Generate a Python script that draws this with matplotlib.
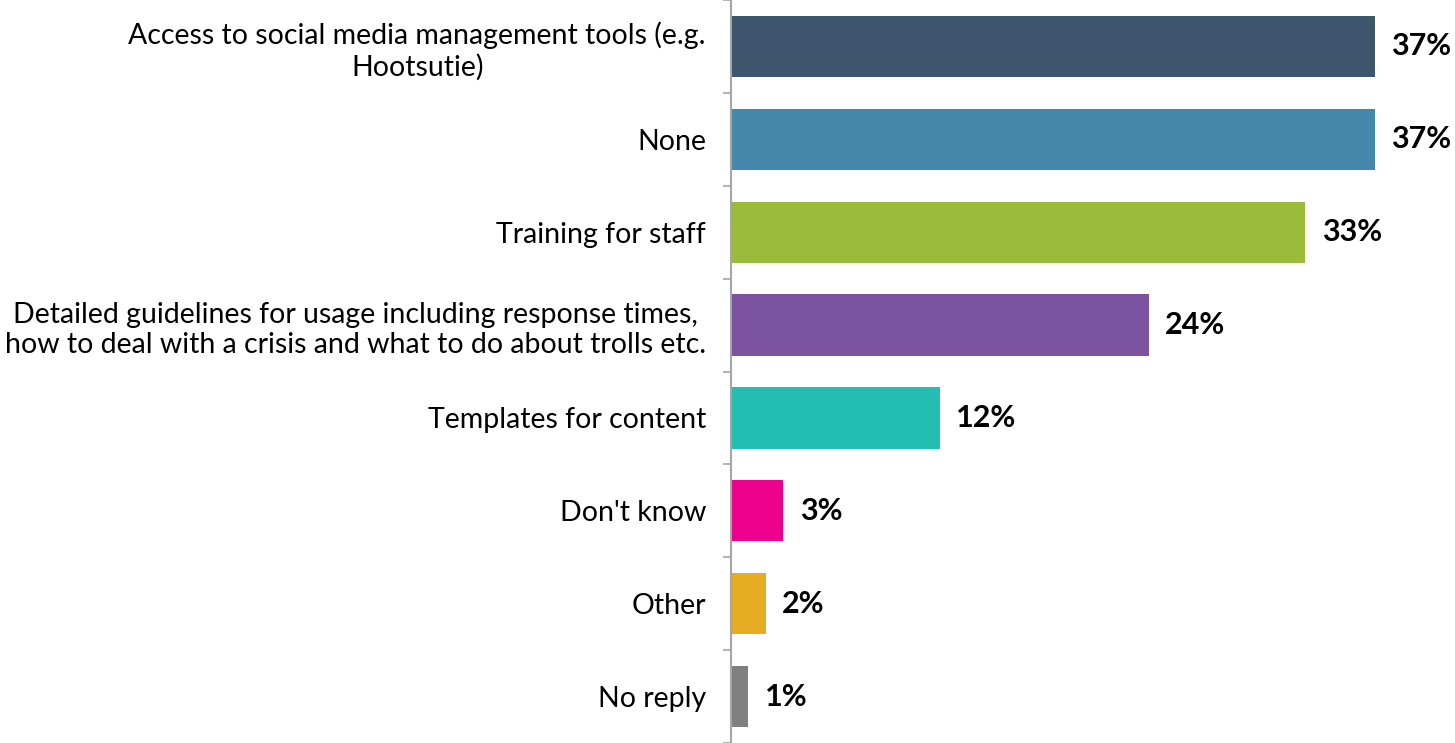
import matplotlib.pyplot as plt
import numpy as np

categories = [
    "Access to social media management tools (e.g.\nHootsutie)",
    "None",
    "Training for staff",
    "Detailed guidelines for usage including response times,\nhow to deal with a crisis and what to do about trolls etc.",
    "Templates for content",
    "Don't know",
    "Other",
    "No reply",
]
values = [37, 37, 33, 24, 12, 3, 2, 1]
colors = ["#3D566E", "#4587AA", "#9BBB3B", "#7C53A0", "#24BDB2", "#EC008C", "#E5AC24", "#808080"]

plt.rcParams["font.family"] = ["Lato", "DejaVu Sans"]

fig = plt.figure(figsize=(14.55, 7.43), dpi=100)
ax = fig.add_axes([731 / 1455, 0, 1 - 731 / 1455, 1])

y = np.arange(len(categories))
ax.barh(y, values, height=0.66, color=colors)

for yi, v in zip(y, values):
    ax.text(v + 0.95, yi, f"{v}%", va="center", ha="left",
            fontsize=22, fontweight="bold", color="#000000")

ax.set_xlim(0, 41.6)
ax.set_ylim(len(categories) - 0.5, -0.5)
ax.set_yticks(y)
ax.set_yticklabels(categories, fontsize=20.5, ha="right", linespacing=1.22,
                   multialignment="center")
ax.set_yticks(np.arange(len(categories) + 1) - 0.5, minor=True)
ax.tick_params(axis="y", which="major", length=0, pad=18)
ax.tick_params(axis="y", which="minor", length=6, width=1.2, color="#A6A6A6")
ax.set_xticks([])

for side in ["top", "right", "bottom"]:
    ax.spines[side].set_visible(False)
ax.spines["left"].set_color("#A6A6A6")
ax.spines["left"].set_linewidth(1.5)

plt.savefig("out.png", dpi=100)
